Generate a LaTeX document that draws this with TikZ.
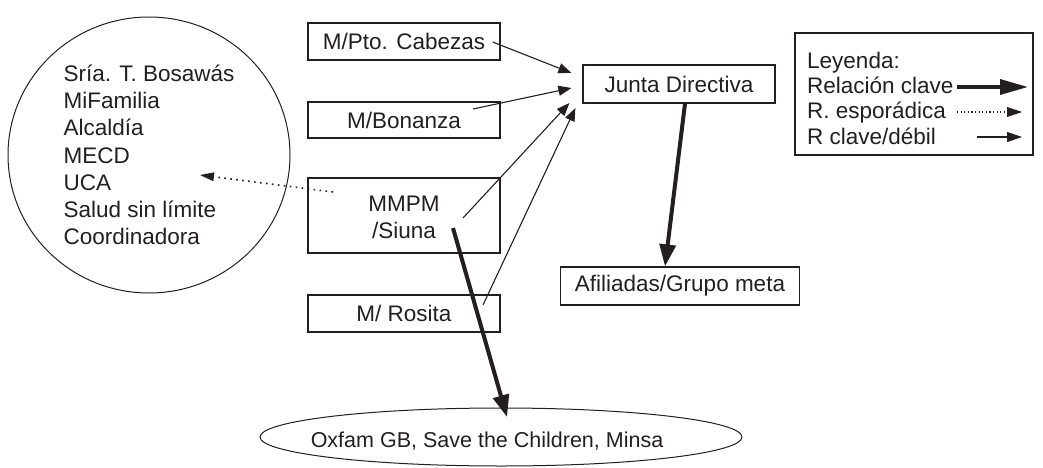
\documentclass[tikz,border=0pt]{standalone}
\usepackage{fontspec}
\setmainfont{Liberation Sans}
\usetikzlibrary{arrows.meta,shapes.geometric,calc}
\definecolor{ink}{HTML}{231F20}
\begin{document}
\begin{tikzpicture}[x=1pt,y=-1pt,
  every node/.style={text=ink,font=\fontsize{22.5}{25}\selectfont},
  box/.style={draw=ink,line width=1.2pt,minimum width=192pt,inner sep=0pt},
  keyarrow/.style={draw=ink,line width=4pt,-{Triangle[length=22pt,width=16pt]}},
  weakarrow/.style={draw=ink,line width=1.1pt,-{Triangle[length=13pt,width=10pt]}},
  sporadic/.style={draw=ink,line width=1.6pt,dash pattern=on 1.6pt off 4.4pt,-{Triangle[length=14pt,width=9pt,line width=0pt]}}]
\useasboundingbox (0,0) rectangle (1043,468);

% group of institutions
\node[draw=ink,line width=1pt,ellipse,minimum width=282pt,minimum height=276pt,inner sep=0pt] (circ) at (149,155) {};
\node[align=left,font=\fontsize{22.5}{27.2}\selectfont] (circtext) at (149,155)
  {Sría. T. Bosawás\\MiFamilia\\Alcaldía\\MECD\\UCA\\Salud sin límite\\Coordinadora};

% municipal boxes
\node[box,minimum height=37pt] (cab) at (404,41.5) {M/Pto. Cabezas};
\node[box,minimum height=36pt] (bon) at (404,120) {M/Bonanza};
\node[box,minimum height=75pt] (siuna) at (404,215.5) {};
\node[anchor=base] (siuna1) at (404,211.5) {MMPM};
\node[anchor=base] (siuna2) at (404,238.3) {/Siuna};
\node[box,minimum height=37pt] (ros) at (404,313.5) {M/ Rosita};

% board and members
\node[box,minimum height=38pt] (junta) at (679,84) {Junta Directiva};
\node[box,minimum width=239pt,minimum height=38pt] (afil) at (680,286) {Afiliadas/Grupo meta};

% donors
\node[draw=ink,line width=1pt,ellipse,minimum width=482pt,minimum height=58pt,inner sep=0pt] (donor) at (501,437) {};
\node[font=\fontsize{21.5}{25}\selectfont] (donortext) at (487,441) {Oxfam GB, Save the Children, Minsa};

% relations
\draw[weakarrow] ($(cab.east)+(-8,0.5)$) -- ($(junta.west)+(-11,-11)$);
\draw[weakarrow] ($(bon.center)+(69,-11)$) -- ($(junta.west)+(-11,4)$);
\draw[weakarrow] ($(siuna.center)+(59,2.5)$) -- ($(junta.west)+(-13,19)$);
\draw[weakarrow] ($(ros.center)+(79,-8.5)$) -- ($(junta.west)+(-7,24)$);
\draw[keyarrow] ($(junta.south)+(6,0)$) -- ($(afil.north)+(-15,0)$);
\draw[keyarrow] ($(siuna.center)+(49,12.5)$) -- ($(donor.center)+(6,-20)$);
\draw[sporadic] ($(siuna.center)+(-71,-23.5)$) -- ($(circ.center)+(51,20)$);

% legend
\node[draw=ink,line width=1.2pt,minimum width=238pt,minimum height=122pt,inner sep=0pt] (legend) at (914,94) {};
\node[anchor=base west,inner sep=0pt] (lg0) at (807,69) {Leyenda:};
\node[anchor=base west,inner sep=0pt] (lg1) at (807,94) {Relación clave};
\node[anchor=base west,inner sep=0pt] (lg2) at (807,119) {R. esporádica};
\node[anchor=base west,inner sep=0pt] (lg3) at (807,144) {R clave/débil};
\coordinate (k1a) at (957,87);  \coordinate (k1b) at (1028,87);
\coordinate (k2a) at (957,112); \coordinate (k2b) at (1022,112);
\coordinate (k3a) at (977,137); \coordinate (k3b) at (1022,137);
\draw[draw=ink,line width=3.5pt,-{Triangle[length=28pt,width=15pt]}] (k1a) -- (k1b);
\draw[sporadic,line width=1.2pt,dash pattern=on 1.2pt off 2.4pt,-{Triangle[length=15pt,width=10pt,line width=0pt]}] (k2a) -- (k2b);
\draw[draw=ink,line width=1.2pt,-{Triangle[length=15pt,width=10pt]}] (k3a) -- (k3b);
\end{tikzpicture}
\end{document}
